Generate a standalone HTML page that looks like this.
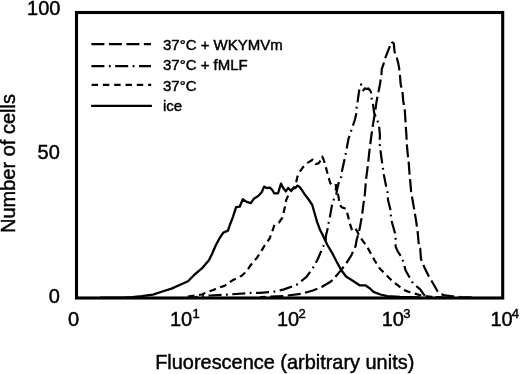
<!DOCTYPE html>
<html><head><meta charset="utf-8"><style>
html,body{margin:0;padding:0;background:#fff;}
svg{display:block;filter:grayscale(1);}
text{font-family:"Liberation Sans",sans-serif;fill:#000;stroke:#000;stroke-width:0.45px;}
</style></head><body>
<svg width="520" height="374" viewBox="0 0 520 374">
<rect x="0" y="0" width="520" height="374" fill="#fff"/>
<g fill="none" stroke="#000" stroke-linejoin="round">
<polyline points="100,297.6 125,297.5 130,297.3 141.5,296.1 153,294.6 162.3,291.5 171.5,288.6 180.7,284.5 188,281.2 193.9,275.2 202.5,267.8 208.9,260.2 212.1,253.8 215.8,245.2 219,239.2 223.3,232.6 228,230.6 229.8,225 232.8,217.3 236.1,207.1 239.7,206.7 242.8,199.3 246.7,201.9 250.9,203.1 253.9,198.7 258.7,195.6 261.7,192.3 264.1,186.6 266.5,188 269.9,187.7 272.3,190 274.2,193.3 278.1,193.3 279.5,188.5 281,183.5 282.9,187.5 285.8,191.4 288.2,188 290.1,190 292,189.5 293.9,188 295.4,188 297.3,185.6 299.7,187 302.1,190.4 305,194.8 309,200 312.2,204.8 314.6,213.2 317,221.6 320,229.8 322.7,235.1 325.3,240.5 327.4,245 332.1,252.8 336.4,261.3 341.2,270 346,276.5 352.4,280.5 359.6,285.3 365.3,285.3 370,288.5 373.5,291.9 380.4,294.5 387.3,296.2 400,297 420,297.3" stroke-width="2.3"/>
<polyline points="185,297 196,295.5 202,294.5 206.1,292.5 213.2,290 218.3,287.9 224.4,285.9 227.4,283.8 232.5,280.3 236.6,278.3 241.7,275.7 246.7,271.1 250,266 257,257.7 259.3,254.4 264.1,246.4 269.7,238.3 272.1,231.9 274.5,224.7 279,222.5 282.5,217.5 284.9,207 286.2,200 288.4,195 295.7,184.7 297.2,177.4 299.4,172.2 303.1,167.1 306.8,163.4 312.6,159.7 315.6,164.1 318.5,163.4 320.7,160.4 322.2,156.5 323.7,159.7 325.9,167.1 328.1,175.9 330.3,183.2 333.2,186.2 336,185 335.7,191.7 338,194.1 338.7,197.7 339.4,203.7 341.4,207 346.1,209 348.1,216.4 350.1,224.4 352.1,230.4 355.4,228.4 357.4,231.8 359.4,236.4 362.1,239.8 365.5,244.5 368.5,249.2 374.1,259.6 379.7,268.5 386.1,274.9 392.5,281.3 398.9,286.1 403.7,290 408.1,291.6 415,293.6 421.9,295.7 430,296.8 445,297.3" stroke-width="2.2" stroke-dasharray="6.8 4.5" stroke-dashoffset="8.5"/>
<polyline points="195,297 210,295.5 228,294.6 253,292.7 260,292.9 274.4,291.6 284,289.4 296.9,284.6 306.5,276.9 312.9,268 317.7,259.2 323.3,246.4 325.7,240 326,235.1 327.4,229.8 328.7,222.4 330,216.4 332,205 334,199 336.3,194.2 337.3,188.5 338.9,182.1 341.3,176.5 342,170.9 344.5,159.6 346,152.4 348.4,139.2 351.6,129.6 354.8,120 356.3,113.8 356.7,107.1 357.6,101.7 359.4,89 361.1,84.4 363.4,90.4 364.7,88.4 366.7,89 368.1,88.4 370.1,90.4 371,92.4 371.4,97.7 372.8,103.1 374.3,113.5 377.5,120.7 379.1,126.4 379.9,135 379.7,144 381.3,156.9 382.9,168 383.8,174.5 386.2,186.5 387.5,192.2 388,200 390.4,209.6 390.9,216 392,222.5 395.2,233.7 395.6,239.3 395.6,246.5 397.7,251.4 400.9,256.2 403.7,262.5 405.5,270.3 408.9,276.3 412.9,283.1 417.5,287.1 420.2,289.3 423.8,294.6 428,296.8 440,297.3" stroke-width="2.2" stroke-dasharray="13 4.5 1.8 4.5" stroke-dashoffset="10.2"/>
<polyline points="260,297 284,296 301.7,293.7 312.9,290.5 322.5,286.5 330.5,281.7 334,278.9 336.1,276 340.4,270.9 346,263.7 351.6,254.8 355.6,246 356.8,239.1 358.1,235.1 359.4,229.8 360.8,222.4 362.1,215 363.4,204.4 364.8,195 366,180 367.7,166.5 369.3,152 371.3,136 372.7,126.4 374.3,116.7 375.1,111.9 376.7,100.7 378.3,92.7 379.9,84.6 381.4,75 381.8,68.8 383.4,64.5 385,58.7 389.4,47.4 391.4,41.8 393.8,43.4 394.5,51.4 396.7,57.4 398.3,63.4 399.1,68.1 399.9,75 400.7,84.6 402.4,91 403.2,100.7 404.8,110.3 405.6,123.2 406.4,135 406.8,144 407.9,156 408.7,162.5 409.5,173.7 410,178.5 411.1,191.4 411.9,196.2 414.5,211.2 416.1,220.9 417.7,232.1 418.5,241.7 419.3,248.2 420.2,248.7 421,259 424.5,267.7 428.8,276.3 434,285 438.3,292.8 444.4,295.4 451.3,296.2 460,297 475,297.3" stroke-width="2.2" stroke-dasharray="13 4.5" stroke-dashoffset="7.2"/>
</g>
<rect x="76.5" y="12.5" width="426.2" height="285.5" fill="none" stroke="#000" stroke-width="3.1"/>
<g stroke="#000" stroke-width="2.2" fill="none">
<line x1="91.4" y1="44.2" x2="151" y2="44.2" stroke-dasharray="13 4.5"/>
<line x1="91.4" y1="66.1" x2="151" y2="66.1" stroke-dasharray="13 4.5 1.8 4.5"/>
<line x1="91.6" y1="84.8" x2="151.2" y2="84.8" stroke-dasharray="6.4 4.9"/>
<line x1="91.1" y1="105.9" x2="151.9" y2="105.9"/>
</g>
<g font-size="15">
<text x="163" y="49.8">37°C + WKYMVm</text>
<text x="163" y="70">37°C + fMLF</text>
<text x="163" y="91">37°C</text>
<text x="163" y="110.8">ice</text>
</g>
<g font-size="20">
<text x="60.4" y="14.7" text-anchor="end">100</text>
<text x="59.8" y="159" text-anchor="end">50</text>
<text x="59.8" y="302.6" text-anchor="end">0</text>
<text x="68" y="325.8">0</text>
<text x="170" y="325.6">10<tspan font-size="13" dx="0.2" dy="-7.5">1</tspan></text>
<text x="277" y="325.8">10<tspan font-size="13" dx="-0.8" dy="-7.5">2</tspan></text>
<text x="381.7" y="325.8">10<tspan font-size="13" dx="-0.8" dy="-7.5">3</tspan></text>
<text x="490.4" y="325.8">10<tspan font-size="13" dx="-0.8" dy="-7.5">4</tspan></text>
<text x="155.2" y="368.75" font-size="19.93">Fluorescence (arbitrary units)</text>
<text transform="translate(15,233) rotate(-90)">Number of cells</text>
</g>
</svg>
</body></html>
